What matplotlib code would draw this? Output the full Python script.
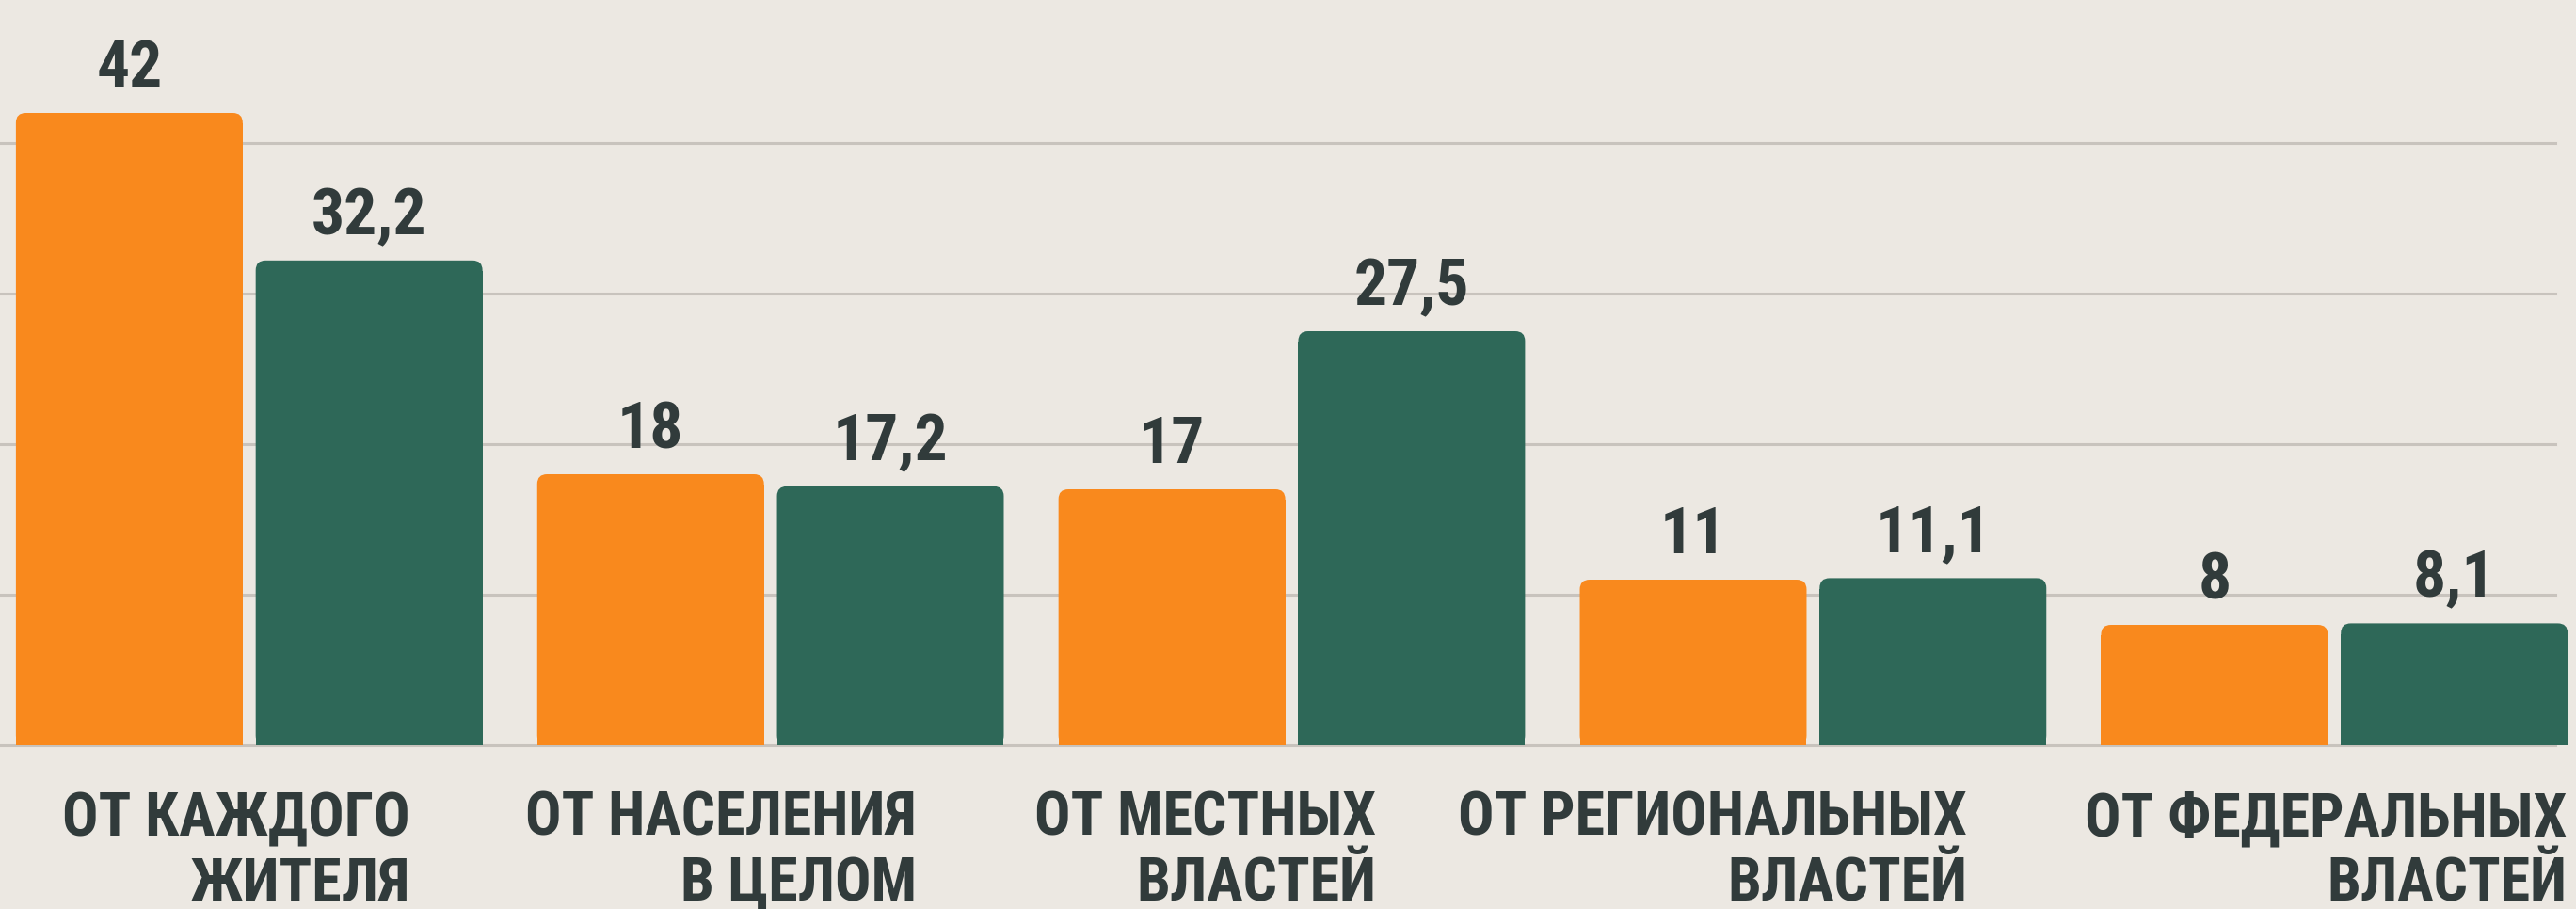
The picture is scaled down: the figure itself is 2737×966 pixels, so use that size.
import matplotlib
matplotlib.use("Agg")
import matplotlib.pyplot as plt
from matplotlib.patches import FancyBboxPatch
from matplotlib import font_manager as fm
import numpy as np

categories = ["ОТ КАЖДОГО\nЖИТЕЛЯ", "ОТ НАСЕЛЕНИЯ\nВ ЦЕЛОМ", "ОТ МЕСТНЫХ\nВЛАСТЕЙ",
              "ОТ РЕГИОНАЛЬНЫХ\nВЛАСТЕЙ", "ОТ ФЕДЕРАЛЬНЫХ\nВЛАСТЕЙ"]
series_orange = [42, 18, 17, 11, 8]
series_green = [32.2, 17.2, 27.5, 11.1, 8.1]
labels_orange = ["42", "18", "17", "11", "8"]
labels_green = ["32,2", "17,2", "27,5", "11,1", "8,1"]
grid_values = [0, 10, 20, 30, 40]

ORANGE = "#F9891D"
GREEN = "#2E6858"
TEXT = "#313B3B"
BG = "#ECE8E2"
GRID = "#C8C3BD"

# pick the narrowest available bold sans
names = {f.name for f in fm.fontManager.ttflist}
stretch = "normal"
family = ["DejaVu Sans"]
for cand in ["Liberation Sans Narrow", "Roboto Condensed", "Open Sans Condensed", "Noto Sans Condensed"]:
    if cand in names:
        family = [cand, "DejaVu Sans"]
        break
else:
    if any(f.name == "DejaVu Sans" and f.stretch in ("condensed", 300, "semi-condensed")
           for f in fm.fontManager.ttflist):
        stretch = "condensed"
plt.rcParams['font.family'] = family

fig = plt.figure(figsize=(27.37, 9.66), dpi=100, facecolor=BG)
ax = fig.add_axes([0, 0, 1, 1])
ax.set_facecolor(BG)
ax.set_xlim(-0.478, 4.4635)
ax.set_ylim(-10.875, 49.5)
ax.axis("off")

for g in grid_values:
    ax.axhline(g, xmin=0, xmax=0.992, color=GRID, lw=2.2, zorder=1)

x = np.arange(len(categories))
w = 0.435
off = 0.23
r_y = 0.7
for xs, vals, col in [(x - off, series_orange, ORANGE), (x + off, series_green, GREEN)]:
    ax.bar(xs, [v - r_y for v in vals], width=w, color=col, zorder=2, linewidth=0)
    for xc, v in zip(xs, vals):
        p = FancyBboxPatch((xc - w / 2, 0), w, v,
                           boxstyle="round,pad=0,rounding_size=0.019",
                           mutation_aspect=34, facecolor=col, edgecolor="none", zorder=2)
        ax.add_patch(p)

renderer = fig.canvas.get_renderer()

# value labels: fit "32,2" to about 125 px wide
probe = ax.text(0, 0, "32,2", fontsize=40, fontweight="bold", fontstretch=stretch)
pw = probe.get_window_extent(renderer).width
probe.remove()
vsize = min(50, 40 * 128 / pw)

for xs, vals, labs in [(x - off, series_orange, labels_orange), (x + off, series_green, labels_green)]:
    for xc, v, t in zip(xs, vals, labs):
        ax.annotate(t, (xc, v), xytext=(0, 20), textcoords="offset points",
                    ha="center", va="baseline", fontsize=vsize, fontweight="bold",
                    fontstretch=stretch, color=TEXT, zorder=3)

# category labels: fit "ОТ РЕГИОНАЛЬНЫХ" to about 540 px wide
probe = ax.text(0, 0, "ОТ РЕГИОНАЛЬНЫХ", fontsize=40, fontweight="bold", fontstretch=stretch)
pw = probe.get_window_extent(renderer).width
probe.remove()
csize = min(50, 40 * 540 / pw)

label_right = [0.309, 0.28, 0.162, 0.296, 0.446]
for xc, lab, s in zip(x, categories, label_right):
    ax.text(xc + s, -3.0, lab, ha="right", va="top", multialignment="right",
            fontsize=csize, fontweight="bold", fontstretch=stretch, color=TEXT,
            linespacing=1.18)

fig.savefig("out.png", dpi=100, facecolor=BG)
